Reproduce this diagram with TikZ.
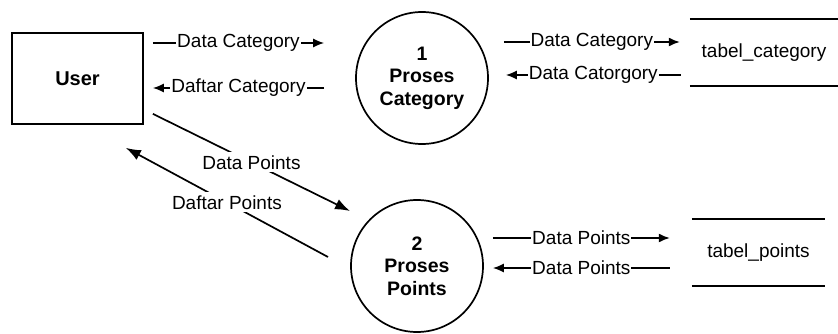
\documentclass[tikz,border=0pt]{standalone}
\usepackage{fontspec}
\setmainfont{Liberation Sans}
\usetikzlibrary{arrows.meta}

\begin{document}
\begin{tikzpicture}[x=1pt,y=-1pt,
  every node/.style={font=\fontsize{19}{22}\selectfont},
  edge line/.style={line width=1.7pt},
  entity/.style={draw, line width=1.7pt, minimum width=131pt, minimum height=91pt,
    font=\fontsize{20}{22}\selectfont\bfseries},
  process/.style={draw, circle, line width=1.7pt, minimum size=132pt, inner sep=0pt,
    align=center, font=\fontsize{19.5}{22.5}\selectfont\bfseries},
  store/.style={minimum height=67pt, inner sep=0pt},
  flow/.style={line width=1.5pt, -{Latex[length=11pt,width=9pt]}},
  bigflow/.style={line width=1.7pt, -{Latex[length=15pt,width=11pt]}},
  lbl/.style={fill=white, inner sep=1pt},
]
  % canvas
  \fill[white] (0,0) rectangle (838,334);
  \useasboundingbox (0,0) rectangle (838,334);

  % external entity, processes and data stores
  \node[entity] (user) at (77.5,78.5) {User};
  \node[process] (p1) at (422,78) {1\\Proses\\Category};
  \node[process] (p2) at (417,266) {2\\Proses\\Points};
  \node[store, minimum width=148pt] (s1) at (764,52.5) {tabel\_category};
  \node[store, minimum width=133pt] (s2) at (758.5,252.5) {tabel\_points};
  \draw[edge line] (s1.north west) -- (s1.north east);
  \draw[edge line] (s1.south west) -- (s1.south east);
  \draw[edge line] (s2.north west) -- (s2.north east);
  \draw[edge line] (s2.south west) -- (s2.south east);

  % User <-> Proses Category
  \draw[flow] ([shift={(9,-35.5)}]user.east) -- node[lbl]{Data Category} ([shift={(-31,-35)}]p1.west);
  \draw[flow] ([shift={(-31,10)}]p1.west) -- node[lbl]{Daftar Category} ([shift={(9,9.5)}]user.east);

  % Proses Category <-> tabel_category
  \draw[flow] ([shift={(15,-36)}]p1.east) -- node[lbl]{Data Category} ([shift={(-10,-10.5)}]s1.west);
  \draw[flow] ([shift={(-9,22.5)}]s1.west) -- node[lbl]{Data Catorgory} ([shift={(17,-3)}]p1.east);

  % User <-> Proses Points
  \draw[bigflow] ([shift={(9,-11)}]user.south east) -- node[lbl, inner sep=3pt]{Data Points} ([shift={(-67,-55)}]p2.center);
  \draw[bigflow] ([shift={(-89,-9)}]p2.center) -- node[lbl, inner sep=3pt]{Daftar Points} ([shift={(-18,23)}]user.south east);

  % Proses Points <-> tabel_points
  \draw[flow] ([shift={(9,-28)}]p2.east) -- node[lbl]{Data Points} ([shift={(-22,-14.5)}]s2.west);
  \draw[flow] ([shift={(-22,15.5)}]s2.west) -- node[lbl]{Data Points} ([shift={(9,2)}]p2.east);
\end{tikzpicture}
\end{document}
